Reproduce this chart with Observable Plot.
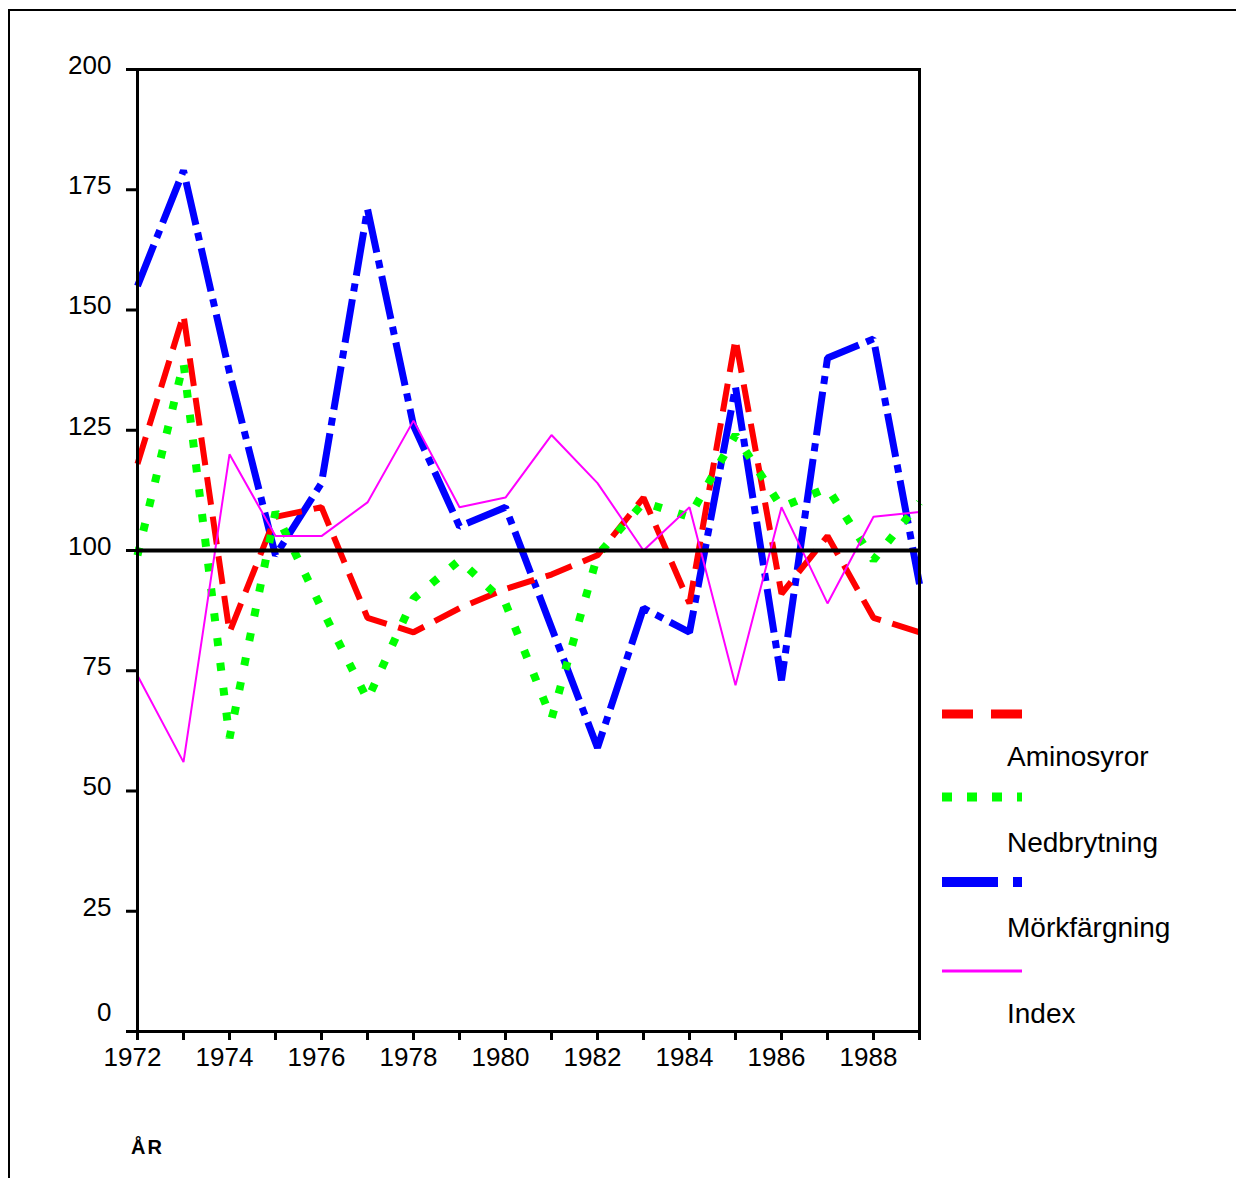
<!DOCTYPE html>
<html>
<head>
<meta charset="utf-8">
<script src="https://cdn.jsdelivr.net/npm/d3@7"></script>
<script src="https://cdn.jsdelivr.net/npm/@observablehq/plot@0.6"></script>
<style>
  html, body { margin: 0; padding: 0; background: #fff; }
  #wrap { position: relative; width: 1236px; height: 1178px; overflow: hidden;
          font-family: "Liberation Sans", Arial, sans-serif; color: #000; }
  #edge { position: absolute; left: 8px; top: 9px; width: 1300px; height: 1300px;
          border-top: 2px solid #000; border-left: 2px solid #000; }
  #chart { position: absolute; left: 0; top: 0; }
  .lg-sw { position: absolute; left: 942px; }
  .lg-tx { position: absolute; left: 1007px; font-size: 28px; line-height: 28px; white-space: nowrap; }
  #xlab { position: absolute; left: 131px; top: 1137px; font-size: 20px; line-height: 20px;
          font-weight: bold; letter-spacing: 2px; }
</style>
</head>
<body>
<div id="wrap">
  <div id="edge"></div>
  <div id="chart"></div>
  <div id="legend"></div>
  <div id="xlab"></div>
</div>
<script>
// ---- data ----
const years = [1972,1973,1974,1975,1976,1977,1978,1979,1980,1981,1982,1983,1984,1985,1986,1987,1988,1989];
const aminosyror   = [118,149, 83,107,109, 86, 83, 88, 92, 95, 99,111, 89,144, 91,103, 86, 83];
const nedbrytning  = [ 99,139, 61,108, 88, 69, 90, 98, 89, 65, 99,110,107,124,109,113, 98,110];
const morkfargning = [155,179,137, 99,114,171,126,105,109, 84, 59, 88, 83,134, 73,140,144, 93];
const indexSeries  = [ 74, 56,120,103,103,110,127,109,111,124,114,100,109, 72,109, 89,107,108];
const seriesNames  = ["Aminosyror", "Nedbrytning", "Mörkfärgning", "Index"];
const yTicksUpper  = [25, 50, 75, 100, 125, 150, 175, 200];
const yTickZero    = [0];
const xLabelYears  = [1972, 1974, 1976, 1978, 1980, 1982, 1984, 1986, 1988];
const axisTitle    = "ÅR";
const refValue     = 100;

// ---- styles ----
const styles = [
  {color: "#ff0000", width: 6, dash: "28,12", lgWidth: 9,  lgDash: "31,18"},
  {color: "#00ff00", width: 8, dash: "8,17",  lgWidth: 9,  lgDash: "10,15"},
  {color: "#0000ff", width: 7, dash: "44,8,8,8", lgWidth: 10, lgDash: "56,15,9,20"},
  {color: "#ff00ff", width: 2, dash: null,    lgWidth: 3,  lgDash: null}
];
const seriesValues = [aminosyror, nedbrytning, morkfargning, indexSeries];
const tables = seriesValues.map(vals => years.map((yr, i) => ({year: yr, value: vals[i]})));

const drawOrder = [2, 0, 1, 3];
const lineMarks = drawOrder.map(k => Plot.line(tables[k], {
  x: "year", y: "value",
  stroke: styles[k].color,
  strokeWidth: styles[k].width,
  strokeDasharray: styles[k].dash,
  strokeLinecap: "butt",
  strokeLinejoin: "miter"
}));

const allYTicks = yTickZero.concat(yTicksUpper);

const chart = Plot.plot({
  width: 940,
  height: 1090,
  marginLeft: 137,
  marginRight: 21,
  marginTop: 69,
  marginBottom: 59,
  style: {fontFamily: "'Liberation Sans', Arial, sans-serif", fontSize: "26px", background: "transparent", overflow: "visible", color: "#000"},
  x: {type: "linear", domain: [1972, 1989], axis: null},
  y: {type: "linear", domain: [0, 200], axis: null},
  marks: [
    ...lineMarks,
    Plot.ruleY([refValue], {stroke: "#000", strokeWidth: 4}),
    Plot.frame({stroke: "#000", strokeWidth: 3}),
    Plot.axisY(allYTicks, {tickSize: 11, tickFormat: () => "", strokeWidth: 3, label: null}),
    Plot.axisY(yTicksUpper, {tickSize: 0, tickPadding: 26, dy: -4, fontSize: 26, tickFormat: d3.format("d"), label: null}),
    Plot.axisY(yTickZero, {tickSize: 0, tickPadding: 26, dy: -19, fontSize: 26, tickFormat: d3.format("d"), label: null}),
    Plot.axisX(years, {tickSize: 9, tickFormat: () => "", strokeWidth: 3, label: null}),
    Plot.axisX(xLabelYears, {tickSize: 0, tickPadding: 16, dx: -5, fontSize: 26, tickFormat: d3.format("d"), label: null})
  ]
});
document.getElementById("chart").appendChild(chart);

// ---- legend ----
const legend = document.getElementById("legend");
const swatchCenters = [713.5, 796.5, 882, 970.5];
const labelTops = [743, 829, 914, 1000];
seriesNames.forEach((name, k) => {
  const st = styles[k];
  const h = 14;
  const svg = d3.create("svg").attr("class", "lg-sw").attr("width", 80).attr("height", h)
    .style("top", (swatchCenters[k] - h / 2) + "px");
  svg.append("line").attr("x1", 0).attr("x2", 80).attr("y1", h / 2).attr("y2", h / 2)
    .attr("stroke", st.color).attr("stroke-width", st.lgWidth)
    .attr("stroke-dasharray", st.lgDash);
  legend.appendChild(svg.node());
  const tx = document.createElement("div");
  tx.className = "lg-tx";
  tx.style.top = labelTops[k] + "px";
  tx.textContent = name;
  legend.appendChild(tx);
});
document.getElementById("xlab").textContent = axisTitle;
</script>
</body>
</html>
